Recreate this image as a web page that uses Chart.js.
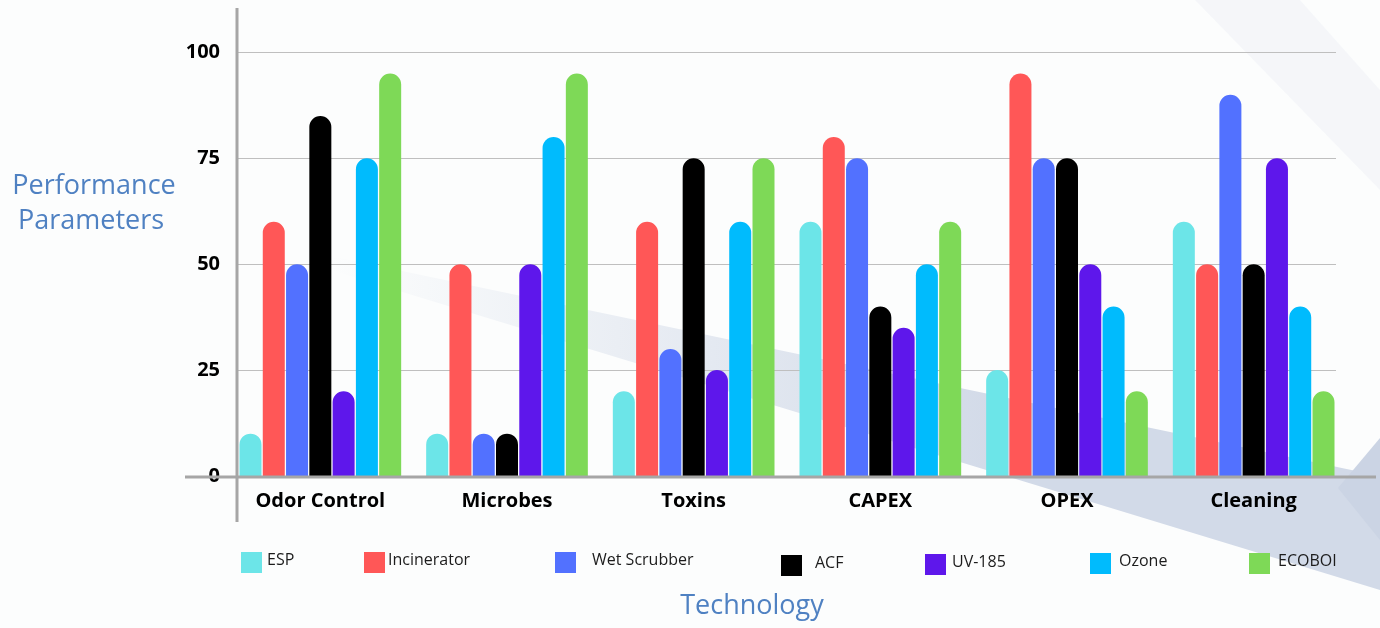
<!DOCTYPE html>
<html>
<head>
<meta charset="utf-8">
<script src="https://cdn.jsdelivr.net/npm/chart.js@4.4.1/dist/chart.umd.min.js"></script>
<style>
    html, body { margin: 0; padding: 0; background: #fcfdfd; }
    #wrap { width: 1380px; height: 628px; position: relative; }
</style>
</head>
<body>
<div id="wrap"><canvas id="myChart"></canvas></div>
<script>
const categories = ["Odor Control", "Microbes", "Toxins", "CAPEX", "OPEX", "Cleaning"];
const technologies = ["ESP", "Incinerator", "Wet Scrubber", "ACF", "UV-185", "Ozone", "ECOBOI"];
const colors = ["#6ce5e8", "#ff5757", "#5271ff", "#000000", "#5e17eb", "#00bbfd", "#7ed957"];

const espValues         = [10, 10, 20, 60, 25, 60];
const incineratorValues = [60, 50, 60, 80, 95, 50];
const wetScrubberValues = [50, 10, 30, 75, 75, 90];
const acfValues         = [85, 10, 75, 40, 75, 50];
const uv185Values       = [20, 50, 25, 35, 50, 75];
const ozoneValues       = [75, 80, 60, 50, 40, 40];
const ecoboiValues      = [95, 95, 75, 60, 20, 20];

const yTicks = [0, 25, 50, 75, 100];
const yMax = 110;

const seriesValues = [espValues, incineratorValues, wetScrubberValues, acfValues,
                      uv185Values, ozoneValues, ecoboiValues];

const titleColor = "#4f81c2";
const titleFont = "27px 'Open Sans', sans-serif";

// background swooshes behind the chart
const backgroundPlugin = {
    id: "background",
    beforeDraw(chart) {
        const ctx = chart.ctx;
        ctx.save();
        ctx.fillStyle = "#fcfdfd";
        ctx.fillRect(0, 0, chart.width, chart.height);

        // faint top-right band
        ctx.fillStyle = "rgba(228, 232, 241, 0.3)";
        ctx.beginPath();
        ctx.moveTo(1195, 0);
        ctx.lineTo(1300, 0);
        ctx.lineTo(1380, 90);
        ctx.lineTo(1380, 190);
        ctx.closePath();
        ctx.fill();

        // main diagonal band
        let grad = ctx.createLinearGradient(330, 0, 1000, 0);
        grad.addColorStop(0, "rgba(210, 218, 232, 0)");
        grad.addColorStop(1, "rgba(210, 218, 232, 1)");
        ctx.fillStyle = grad;
        ctx.beginPath();
        ctx.moveTo(235, 236);
        ctx.lineTo(1380, 476);
        ctx.lineTo(1380, 590);
        ctx.lineTo(235, 241);
        ctx.closePath();
        ctx.fill();

        // right triangle
        ctx.fillStyle = "rgba(203, 212, 228, 1)";
        ctx.beginPath();
        ctx.moveTo(1338, 488);
        ctx.lineTo(1380, 438);
        ctx.lineTo(1380, 540);
        ctx.closePath();
        ctx.fill();
        ctx.restore();
    }
};

// gridlines and axis lines
const axesPlugin = {
    id: "axesLines",
    beforeDatasetsDraw(chart) {
        const ctx = chart.ctx;
        const y = chart.scales.y;
        const area = chart.chartArea;
        ctx.save();
        ctx.strokeStyle = "#bfbfbf";
        ctx.lineWidth = 1.2;
        for (let i = 1; i < yTicks.length; i++) {
            let py = Math.round(y.getPixelForValue(yTicks[i])) + 0.5;
            ctx.beginPath();
            ctx.moveTo(area.left + 10, py);
            ctx.lineTo(area.right - 11, py);
            ctx.stroke();
        }
        ctx.restore();
    },
    afterDatasetsDraw(chart) {
        const ctx = chart.ctx;
        const y = chart.scales.y;
        const area = chart.chartArea;
        const zero = y.getPixelForValue(0);
        ctx.save();
        ctx.strokeStyle = "#a6a6a6";
        ctx.lineWidth = 3;
        ctx.beginPath();
        ctx.moveTo(area.left - 42, zero + 1);
        ctx.lineTo(area.right + 29, zero + 1);
        ctx.stroke();
        ctx.beginPath();
        ctx.moveTo(area.left + 10, 8);
        ctx.lineTo(area.left + 10, zero + 46);
        ctx.stroke();
        ctx.restore();
    }
};

// axis titles and legend, placed like in the original picture
const legendX = [241, 364, 555, 781, 925, 1090, 1249];
const legendTextGap = [5, 3, 16, 13, 6, 8, 8];
const legendDy = [0, 0, 0, 3, 2, 1, 1];

const labelsPlugin = {
    id: "labels",
    afterDraw(chart) {
        const ctx = chart.ctx;
        ctx.save();
        ctx.fillStyle = titleColor;
        ctx.font = titleFont;
        ctx.textAlign = "center";
        ctx.textBaseline = "middle";
        ctx.fillText("Performance", 94, 186);
        ctx.fillText("Parameters", 91, 221);
        ctx.fillText("Technology", 752, 606);

        ctx.font = "16px 'Open Sans', sans-serif";
        ctx.textAlign = "left";
        chart.data.datasets.forEach((ds, i) => {
            let bx = legendX[i];
            let by = 552 + legendDy[i];
            ctx.fillStyle = ds.backgroundColor;
            ctx.fillRect(bx, by, 21, 21);
            ctx.fillStyle = "#1c1c1c";
            ctx.fillText(ds.label, bx + 21 + legendTextGap[i], by + 8);
        });
        ctx.restore();
    }
};

const datasets = technologies.map((name, i) => ({
    label: name,
    data: seriesValues[i],
    backgroundColor: colors[i],
    borderRadius: { topLeft: 11, topRight: 11, bottomLeft: 0, bottomRight: 0 },
    borderSkipped: "start",
    barPercentage: 0.945,
    categoryPercentage: 0.873
}));

const ctx = document.getElementById("myChart").getContext("2d");
const chart = new Chart(ctx, {
    type: "bar",
    data: {
        labels: categories,
        datasets: datasets
    },
    options: {
        responsive: true,
        maintainAspectRatio: false,
        animation: false,
        layout: {
            padding: { left: 0, right: 33, top: 10, bottom: 106 }
        },
        plugins: {
            legend: { display: false },
            tooltip: { enabled: false }
        },
        scales: {
            x: {
                grid: { display: false, drawTicks: false },
                border: { display: false },
                ticks: {
                    color: "#000000",
                    padding: 13,
                    font: { family: "'Open Sans', sans-serif", size: 20, weight: "bold" }
                },
                afterFit(scale) { scale.height = 46; }
            },
            y: {
                min: 0,
                max: yMax,
                grid: { display: false, drawTicks: false },
                border: { display: false },
                ticks: {
                    color: "#000000",
                    padding: 7,
                    font: { family: "'Open Sans', sans-serif", size: 20, weight: "bold" }
                },
                afterBuildTicks(scale) {
                    scale.ticks = yTicks.map((v) => ({ value: v }));
                },
                afterFit(scale) {
                    scale.width = 227;
                    scale.paddingTop = 0;
                    scale.paddingBottom = 0;
                }
            }
        }
    },
    plugins: [backgroundPlugin, axesPlugin, labelsPlugin]
});
</script>
</body>
</html>
